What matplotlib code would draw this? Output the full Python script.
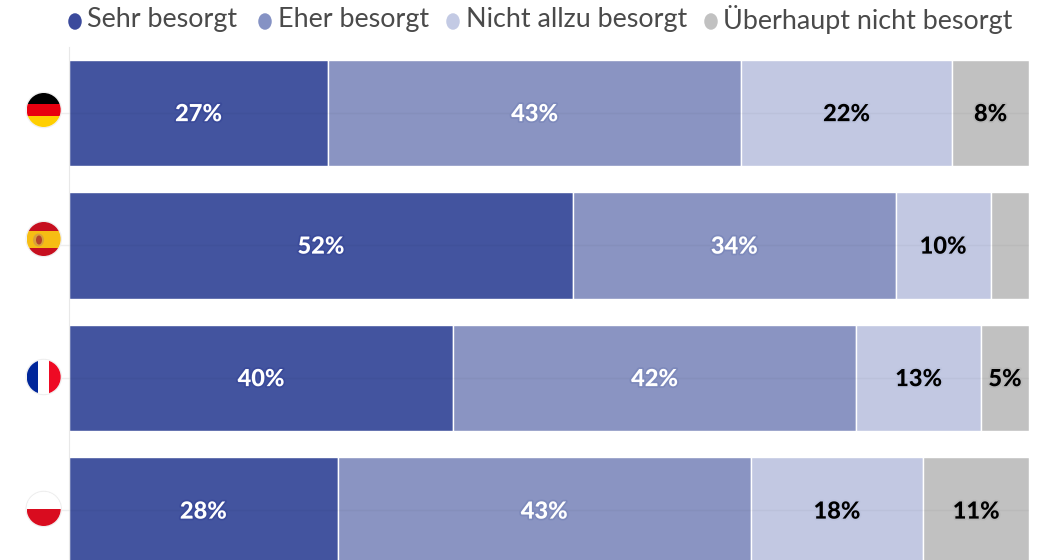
import matplotlib
matplotlib.use('Agg')
import matplotlib.pyplot as plt
import matplotlib.patheffects as pe
from matplotlib.patches import Circle, Ellipse, Rectangle

plt.rcParams['font.family'] = ['Lato', 'DejaVu Sans']

countries = ['Deutschland', 'Spanien', 'Frankreich', 'Polen']
series_names = ['Sehr besorgt', 'Eher besorgt', 'Nicht allzu besorgt', 'Überhaupt nicht besorgt']
sehr = [27, 52.5, 40, 28]
eher = [43, 33.6, 42, 43]
nicht_allzu = [22, 9.9, 13, 18]
gar_nicht = [8, 4, 5, 11]
label_sehr = ['27%', '52%', '40%', '28%']
label_eher = ['43%', '34%', '42%', '43%']
label_nicht_allzu = ['22%', '10%', '13%', '18%']
label_gar_nicht = ['8%', '', '5%', '11%']

colors = ['#43549f', '#8a94c2', '#c2c8e2', '#c1c1c1']
legend_colors = ['#3b4a9c', '#8592c4', '#c3cae4', '#c1c1c1']
text_colors = ['white', 'white', 'black', 'black']
glow_colors = ['#3a4a9a', '#7d89bb', '#bcc3de', '#b8b8b8']

W, H = 1048, 560
fig = plt.figure(figsize=(W / 100, H / 100), dpi=100)
ax = fig.add_axes([69 / W, 0, 960 / W, (560 - 46.75) / H])

values = [sehr, eher, nicht_allzu, gar_nicht]
labels = [label_sehr, label_eher, label_nicht_allzu, label_gar_nicht]
left = [0, 0, 0, 0]
for k in range(4):
    bars = ax.barh(range(4), values[k], left=left, height=0.805, color=colors[k],
                   edgecolor='white', linewidth=1, zorder=2)
    for i, b in enumerate(bars):
        ax.text(b.get_x() + b.get_width() / 2, i + 0.005, labels[k][i], ha='center', va='center',
                color=text_colors[k], fontsize=17, fontweight='black', zorder=4,
                path_effects=[pe.withStroke(linewidth=2.5, foreground=glow_colors[k])])
    left = [a + b for a, b in zip(left, values[k])]

ax.set_xlim(0, 100)
ax.set_ylim(3.374, -0.5)
ax.axhline(0, color='#000000', alpha=0.03, lw=1, zorder=3)
ax.axhline(1, color='#000000', alpha=0.03, lw=1, zorder=3)
ax.axhline(2, color='#000000', alpha=0.03, lw=1, zorder=3)
ax.axhline(3, color='#000000', alpha=0.03, lw=1, zorder=3)
ax.set_xticks([])
ax.set_yticks(range(4))
ax.set_yticklabels([])
ax.tick_params(axis='y', length=8, width=1, color='#eeeeee')
for s in ['top', 'right', 'bottom']:
    ax.spines[s].set_visible(False)
ax.spines['left'].set_color('#e8e8e8')

# overlay in pixels for legend and flags
ov = fig.add_axes([0, 0, 1, 1], facecolor='none')
ov.set_xlim(0, W)
ov.set_ylim(H, 0)
ov.axis('off')

dot_x = [75, 265, 453, 711]
text_x = [87, 278, 466, 723]
for name, c, dx, tx in zip(series_names, legend_colors, dot_x, text_x):
    ov.add_patch(Ellipse((dx, 21.5), 13.5, 16.5, color=c, lw=0))
    ov.text(tx, 20, name, fontsize=19.4, color='#4a4a4a', va='center', ha='left')


def flag(cy, stripes, vertical=False):
    cx, r = 43.7, 17
    ring = Circle((cx, cy), r + 0.7, facecolor='white', edgecolor='#eeeeee', lw=0.8, zorder=5)
    ov.add_patch(ring)
    clip = Circle((cx, cy), r, transform=ov.transData)
    start = 0
    for frac, c in stripes:
        if vertical:
            rect = Rectangle((cx - r + start * 2 * r, cy - r), frac * 2 * r, 2 * r, color=c, lw=0, zorder=6)
        else:
            rect = Rectangle((cx - r, cy - r + start * 2 * r), 2 * r, frac * 2 * r, color=c, lw=0, zorder=6)
        ov.add_patch(rect)
        rect.set_clip_path(clip)
        start += frac


flag(110, [(1 / 3, '#000000'), (1 / 3, '#e8000f'), (1 / 3, '#ffcf00')])
flag(239, [(0.25, '#c60f1f'), (0.5, '#f6bd14'), (0.25, '#c60f1f')])
ov.add_patch(Ellipse((38.5, 240), 11, 13, color='#d9a13a', lw=0, zorder=7))
ov.add_patch(Ellipse((39, 240), 6, 9, color='#b5432a', lw=0, zorder=8))
flag(377, [(0.33, '#00269a'), (0.34, '#ffffff'), (0.33, '#ee0a24')], vertical=True)
flag(509, [(0.5, '#ffffff'), (0.5, '#d90c1f')])

fig.savefig('out.png', dpi=100)
